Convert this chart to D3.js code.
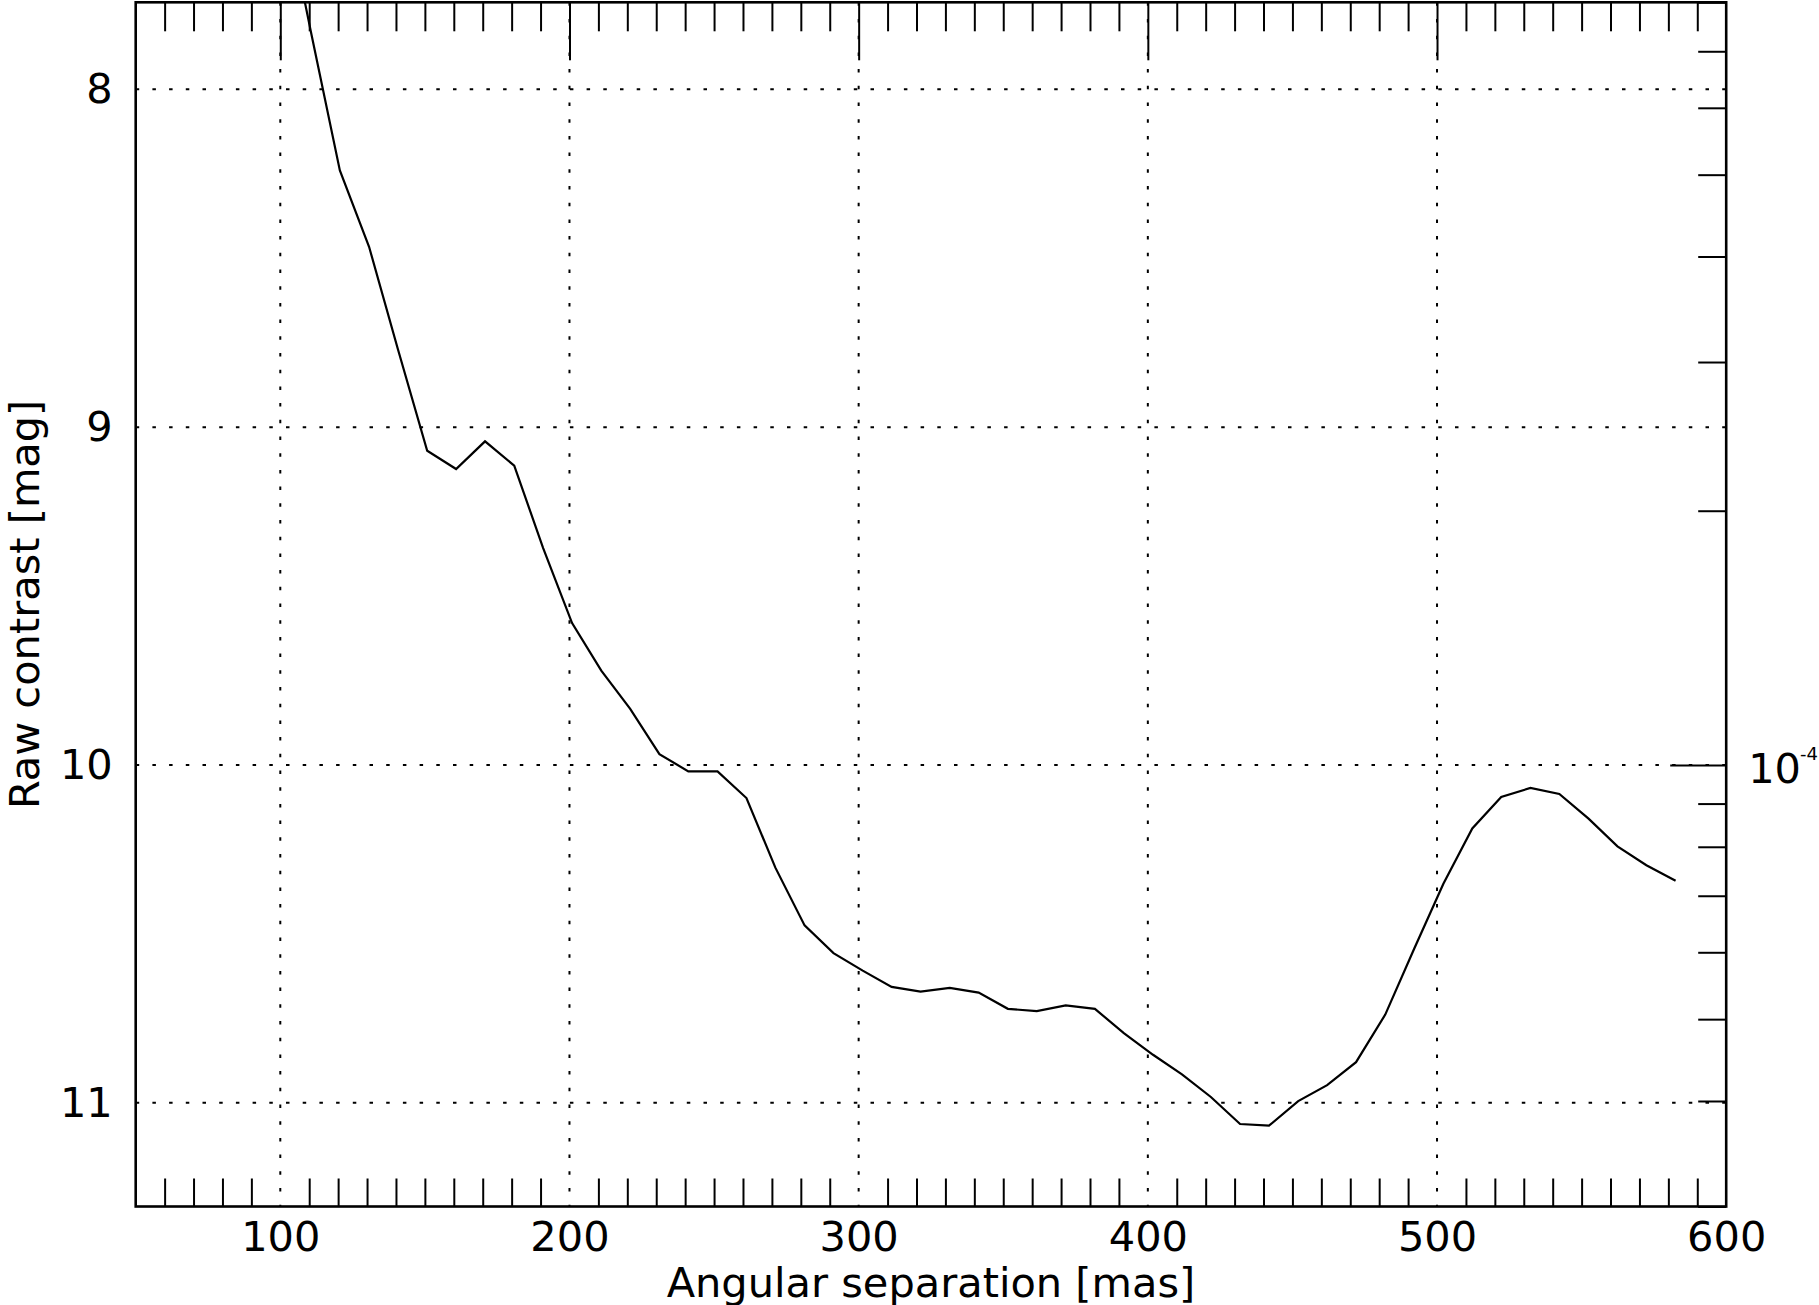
<!DOCTYPE html>
<html>
<head>
<meta charset="utf-8">
<script src="https://cdn.jsdelivr.net/npm/d3@7"></script>
<style>
    body { margin: 0; background: #fff; }
    text { font-family: "DejaVu Sans", sans-serif; fill: #000; }
</style>
</head>
<body>
<svg id="chart" width="1819" height="1305"></svg>
<script>
// Data
var separation = [100.6, 110.6, 120.6, 130.7, 140.7, 150.8, 160.8, 170.8, 180.9, 190.9,
    200.9, 211.0, 221.0, 231.1, 241.1, 251.2, 261.2, 271.2, 281.3, 291.3,
    301.4, 311.4, 321.4, 331.5, 341.5, 351.6, 361.6, 371.6, 381.7, 391.7,
    401.8, 411.8, 421.8, 431.9, 441.9, 452.0, 462.0, 472.0, 482.1, 492.1,
    502.2, 512.2, 522.2, 532.3, 542.3, 552.4, 562.4, 572.4, 582.5];
var rawContrast = [7.41, 7.83, 8.24, 8.466, 8.77, 9.070, 9.124, 9.042, 9.114, 9.358,
    9.580, 9.721, 9.834, 9.968, 10.019, 10.019, 10.098, 10.304, 10.475, 10.557,
    10.609, 10.657, 10.671, 10.660, 10.674, 10.722, 10.729, 10.712, 10.722, 10.794,
    10.858, 10.916, 10.983, 11.063, 11.068, 10.995, 10.948, 10.880, 10.739, 10.544,
    10.352, 10.188, 10.095, 10.068, 10.086, 10.159, 10.241, 10.297, 10.343];

// Tick values
var xMajorTicks = [100, 200, 300, 400, 500, 600];
var xMinorTicks = d3.range(60, 600, 10).filter(d => d % 100 !== 0);
var magTicks = [8, 9, 10, 11];
var fluxMajorTicks = [1e-4];
var fluxMinorTicks = [3e-5, 4e-5, 5e-5, 6e-5, 7e-5, 8e-5, 9e-5,
    2e-4, 3e-4, 4e-4, 5e-4, 6e-4, 7e-4, 8e-4];

// Sizes
var svgWidth = 1819;
var svgHeight = 1305;
var margins = {top: 2.3, right: 92.8, bottom: 98.5, left: 135.7};
var width = svgWidth - margins.left - margins.right;
var height = svgHeight - margins.top - margins.bottom;
var fontSize = 41.5;

var svg = d3.select("#chart");
svg.append("rect").attr("width", svgWidth).attr("height", svgHeight).attr("fill", "#fff");

var g = svg.append("g")
    .attr("transform", "translate(" + margins.left + "," + margins.top + ")");

// Scales: left axis is magnitude, right axis is flux ratio (log)
var fluxTop = 8e-4, fluxBottom = 3e-5;
var xScale = d3.scaleLinear().domain([50, 600]).range([0, width]);
var magScale = d3.scaleLinear()
    .domain([-2.5 * Math.log10(fluxTop), -2.5 * Math.log10(fluxBottom)])
    .range([0, height]);
var fluxScale = d3.scaleLog().domain([fluxTop, fluxBottom]).range([0, height]);

// Grid
var dash = "3.5,13.2";
g.append("g").selectAll("line")
    .data(xMajorTicks.filter(d => d < 600))
    .join("line")
    .attr("x1", d => xScale(d)).attr("x2", d => xScale(d))
    .attr("y1", 0).attr("y2", height)
    .attr("stroke", "#000").attr("stroke-width", 2)
    .attr("stroke-dasharray", dash);
g.append("g").selectAll("line")
    .data(magTicks)
    .join("line")
    .attr("x1", 0).attr("x2", width)
    .attr("y1", d => magScale(d)).attr("y2", d => magScale(d))
    .attr("stroke", "#000").attr("stroke-width", 2)
    .attr("stroke-dasharray", dash);

// Curve
g.append("clipPath").attr("id", "plotClip")
    .append("rect").attr("width", width).attr("height", height);

var points = separation.map((s, i) => ({sep: s, mag: rawContrast[i]}));
var line = d3.line()
    .x(d => xScale(d.sep))
    .y(d => magScale(d.mag));

g.append("path")
    .attr("clip-path", "url(#plotClip)")
    .attr("fill", "none")
    .attr("stroke", "#000")
    .attr("stroke-width", 2.2)
    .attr("stroke-linejoin", "miter")
    .attr("d", line(points));

// Axes
function styleTicks(sel) {
    sel.select(".domain").remove();
    sel.selectAll(".tick line").attr("stroke", "#000").attr("stroke-width", 2);
    sel.selectAll("text").attr("font-size", fontSize).attr("fill", "#000")
        .attr("font-family", "DejaVu Sans");
}

// top: minor and major ticks pointing down
g.append("g")
    .call(d3.axisTop(xScale).tickValues(xMinorTicks).tickSize(-29).tickFormat(""))
    .call(styleTicks);
g.append("g")
    .call(d3.axisTop(xScale).tickValues(xMajorTicks.filter(d => d < 600)).tickSize(-58).tickFormat(""))
    .call(styleTicks);

// bottom: minor ticks pointing up, then labels
g.append("g")
    .attr("transform", "translate(0," + height + ")")
    .call(d3.axisBottom(xScale).tickValues(xMinorTicks).tickSize(-28).tickFormat(""))
    .call(styleTicks);
g.append("g")
    .attr("transform", "translate(0," + height + ")")
    .call(d3.axisBottom(xScale).tickValues(xMajorTicks).tickSize(0).tickPadding(15)
        .tickFormat(d3.format("d")))
    .call(styleTicks);

// left: labels only
g.append("g")
    .call(d3.axisLeft(magScale).tickValues(magTicks).tickSize(0).tickPadding(23)
        .tickFormat(d3.format("d")))
    .call(styleTicks);

// right: log flux ticks pointing in
g.append("g")
    .attr("transform", "translate(" + width + ",0)")
    .call(d3.axisRight(fluxScale).tickValues(fluxMinorTicks).tickSize(-28).tickFormat(""))
    .call(styleTicks);
g.append("g")
    .attr("transform", "translate(" + width + ",0)")
    .call(d3.axisRight(fluxScale).tickValues(fluxMajorTicks).tickSize(-56).tickFormat(""))
    .call(styleTicks);

var powLabel = g.append("g").selectAll("text")
    .data(fluxMajorTicks)
    .join("text")
    .attr("x", width + 22)
    .attr("y", d => fluxScale(d) + 18.5)
    .attr("font-size", fontSize);
powLabel.append("tspan").text("10");
powLabel.append("tspan")
    .attr("font-size", 18)
    .attr("dx", -1)
    .attr("dy", -23)
    .text(d => Math.round(Math.log10(d)));

// frame
g.append("rect")
    .attr("width", width).attr("height", height)
    .attr("fill", "none").attr("stroke", "#000").attr("stroke-width", 2.6);

// axis labels
svg.append("text")
    .attr("x", margins.left + width / 2)
    .attr("y", 1296.5)
    .attr("text-anchor", "middle")
    .attr("font-size", fontSize)
    .text("Angular separation [mas]");

svg.append("text")
    .attr("transform", "translate(39," + (margins.top + height / 2) + ") rotate(-90)")
    .attr("text-anchor", "middle")
    .attr("font-size", fontSize)
    .text("Raw contrast [mag]");
</script>
</body>
</html>
